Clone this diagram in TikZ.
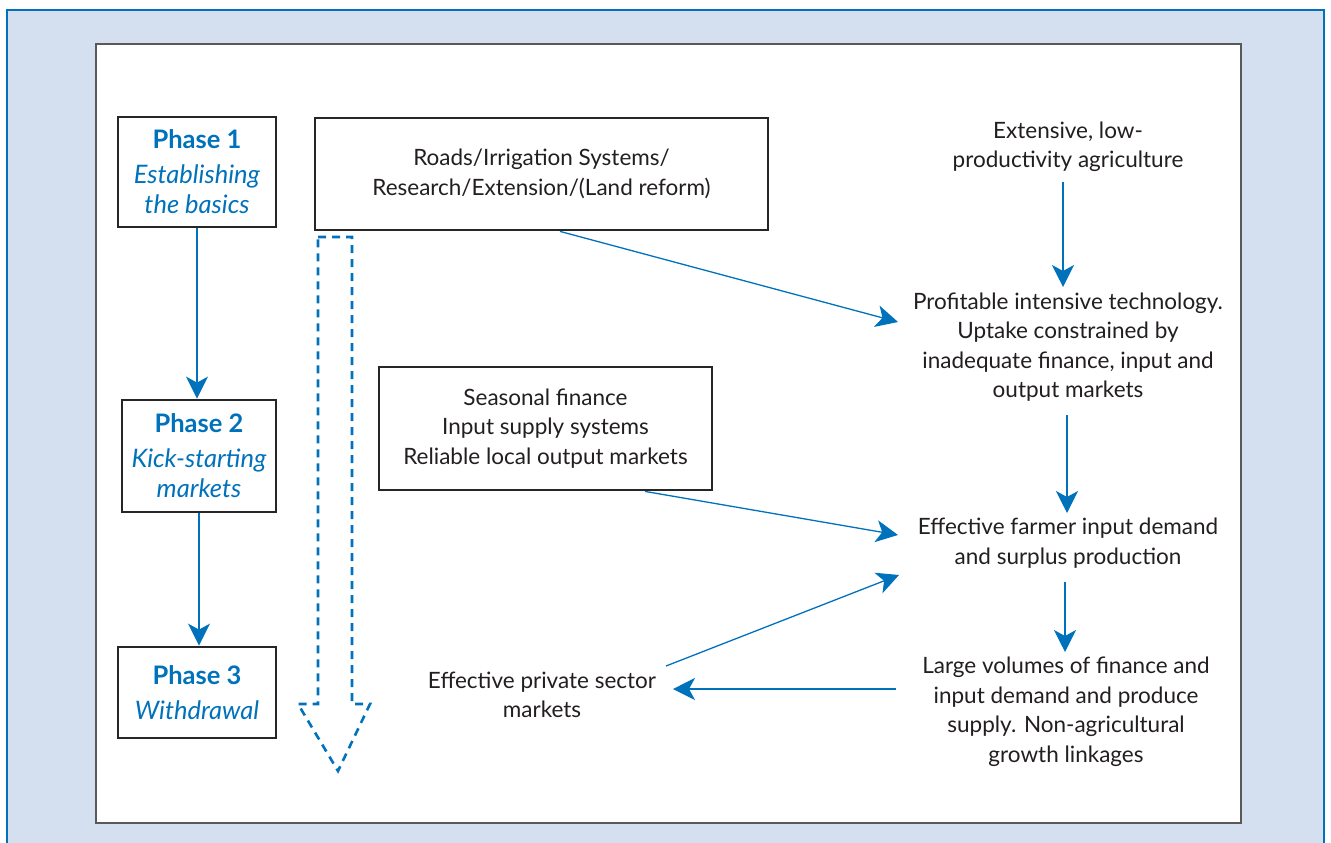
\documentclass[tikz,border=0pt]{standalone}
\usepackage{fontspec}
\setmainfont{Lato}
\usetikzlibrary{arrows.meta,calc}
\definecolor{frameblue}{RGB}{0,114,188}
\definecolor{bgblue}{RGB}{212,224,240}
\definecolor{txt}{RGB}{35,31,32}
\begin{document}
\begin{tikzpicture}[x=1pt,y=-1pt,
  box/.style={draw=black!85, line width=2.8pt, align=center, inner sep=0pt, text=txt},
  phase/.style={box, text=frameblue, font=\fontsize{25.5}{30.5}\selectfont},
  lbl/.style={align=center, text=txt, inner sep=2pt},
  arr/.style={draw=frameblue, line width=1.3pt, -{Stealth[length=22pt,width=22pt,inset=6pt]}},
  font=\fontsize{22.5}{29.5}\selectfont]
\useasboundingbox (0,0) rectangle (1331,843);
\clip (0,0) rectangle (1331,843);
\fill[white] (0,0) rectangle (1331,843);
\filldraw[fill=bgblue, draw=frameblue, line width=1.5pt] (7,10) rectangle (1324,870);
\filldraw[fill=white, draw=black!65, line width=1.2pt] (96,44) rectangle (1241,823);

% phase boxes
\node[phase, minimum width=158pt, minimum height=110pt] (p1) at (197,172)
  {\textbf{Phase 1}\\[4pt]\textit{Establishing}\\\textit{the basics}};
\node[phase, minimum width=154pt, minimum height=112pt] (p2) at (199,456)
  {\textbf{Phase 2}\\[4pt]\textit{Kick-starting}\\\textit{markets}};
\node[phase, minimum width=158pt, minimum height=91pt] (p3) at (197,692.5)
  {\textbf{Phase 3}\\[4pt]\textit{Withdrawal}};

% intervention boxes
\node[box, minimum width=453pt, minimum height=112pt] (roads) at (541.5,174)
  {Roads/Irrigation Systems/\\Research/Extension/(Land reform)};
\node[box, minimum width=333pt, minimum height=123pt] (seas) at (545.5,428.5)
  {Seasonal finance\\Input supply systems\\Reliable local output markets};

% dashed big arrow
\draw[frameblue, line width=2.6pt, dash pattern=on 8pt off 6pt, line join=miter]
  (318,237) -- (352,237) -- (352,704) -- (370,704) -- (338,771) -- (298,704) -- (318,704) -- cycle;

% right column texts
\node[lbl] (ext) at (1068,147) {Extensive, low-\\productivity agriculture};
\node[lbl] (prof) at (1068,347) {Profitable intensive technology.\\Uptake constrained by\\inadequate finance, input and\\output markets};
\node[lbl] (eff) at (1068,543) {Effective farmer input demand\\and surplus production};
\node[lbl] (large) at (1066,712) {Large volumes of finance and\\input demand and produce\\supply. Non-agricultural\\growth linkages};
\node[lbl] (priv) at (542,695) {Effective private sector\\markets};

% phase arrows
\draw[arr] (p1.south) -- (p1.south |- p2.north);
\draw[arr] (p2.south) -- (p2.south |- p3.north);

% right column arrows
\draw[arr] ($(ext)+(-5,35)$) -- ($(prof)+(-5,-60)$);
\draw[arr] ($(prof)+(-1,68)$) -- ($(eff)+(-1,-30)$);
\draw[arr] ($(eff)+(-3,39)$) -- ($(large)+(-1,-60)$);

% diagonal arrows
\draw[arr] ($(roads.south)+(18.5,0)$) -- ($(prof)+(-170,-25)$);
\draw[arr] ($(seas.south)+(99.5,0)$) -- ($(eff)+(-170,-8)$);
\draw[arr] ($(priv)+(124,-29)$) -- ($(eff)+(-169,32)$);
\draw[arr] ($(large)+(-170,-23)$) -- ($(priv)+(131,-6)$);
\end{tikzpicture}
\end{document}
